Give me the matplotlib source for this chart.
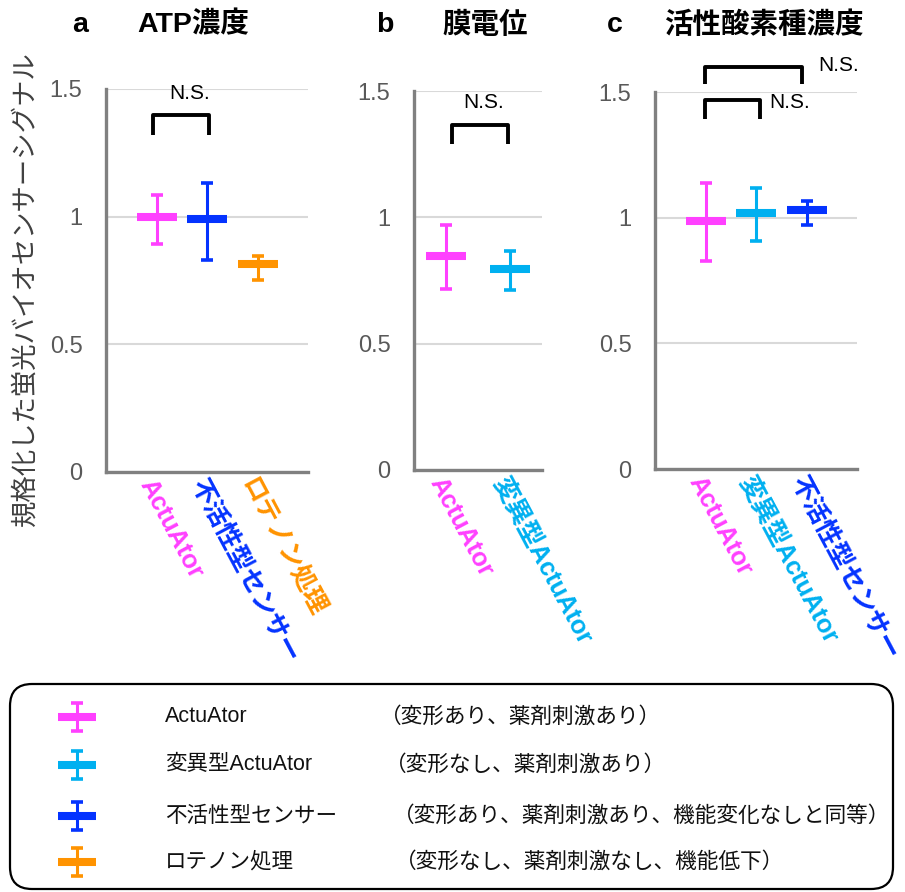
import matplotlib
matplotlib.use("Agg")
import matplotlib.pyplot as plt
from matplotlib.patches import FancyBboxPatch

plt.rcParams['font.family'] = ['Liberation Sans', 'Noto Sans CJK JP', 'DejaVu Sans']

W, H = 905, 892

# ---------------- data ----------------
colors = {
    'ActuAtor': '#FF40FF',
    '変異型ActuAtor': '#00B0F0',
    '不活性型センサー': '#0433FF',
    'ロテノン処理': '#FF9300',
}

a_labels = ['ActuAtor', '不活性型センサー', 'ロテノン処理']
a_mean = [1.00, 0.991, 0.815]
a_upper = [1.085, 1.132, 0.846]
a_lower = [0.893, 0.830, 0.752]

b_labels = ['ActuAtor', '変異型ActuAtor']
b_mean = [0.847, 0.795]
b_upper = [0.970, 0.867]
b_lower = [0.716, 0.712]

c_labels = ['ActuAtor', '変異型ActuAtor', '不活性型センサー']
c_mean = [0.987, 1.019, 1.031]
c_upper = [1.138, 1.118, 1.066]
c_lower = [0.828, 0.907, 0.971]

yticks = [0, 0.5, 1, 1.5]
ytick_labels = ['0', '0.5', '1', '1.5']

titles = [('a', 'ATP濃度'), ('b', '膜電位'), ('c', '活性酸素種濃度')]
ylabel = '規格化した蛍光バイオセンサーシグナル'

legend_labels = ['ActuAtor', '変異型ActuAtor', '不活性型センサー', 'ロテノン処理']
legend_desc = ['（変形あり、薬剤刺激あり）',
               '（変形なし、薬剤刺激あり）',
               '（変形あり、薬剤刺激あり、機能変化なしと同等）',
               '（変形なし、薬剤刺激なし、機能低下）']

# brackets: (x_left, x_right, y_top, y_bottom, text_x, text_y, ha)
a_brackets = [(0.93, 2.04, 1.398, 1.32, 1.66, 1.484, 'center')]
b_brackets = [(1.09, 1.97, 1.365, 1.29, 1.59, 1.456, 'center')]
c_brackets = [(0.99, 2.91, 1.60, 1.532, 3.23, 1.604, 'left'),
              (0.99, 2.08, 1.468, 1.393, 2.26, 1.46, 'left')]

# ---------------- figure ----------------
fig = plt.figure(figsize=(W / 100, H / 100), dpi=100)


def px_axes(x0, x1, ytop, ybot):
    return fig.add_axes([x0 / W, 1 - ybot / H, (x1 - x0) / W, (ybot - ytop) / H])


def panel(ax, labels, mean, upper, lower, xlim, brackets):
    pos = list(range(1, len(labels) + 1))
    for p, lab, m, u, l in zip(pos, labels, mean, upper, lower):
        c = colors[lab]
        ax.errorbar([p], [m], yerr=[[m - l], [u - m]], fmt='none', ecolor=c,
                    elinewidth=2.2, capsize=4.5, capthick=2.6, zorder=3)
        ax.plot([p], [m], marker='_', ms=28.5, mew=5.8, color=c, zorder=4,
                linestyle='none')
    ax.set_xlim(*xlim)
    ax.set_ylim(0, 1.5)
    ax.set_yticks(yticks, ytick_labels)
    ax.set_xticks(pos, labels)
    ax.tick_params(axis='y', length=0, pad=17, labelsize=17, labelcolor='#595959')
    ax.tick_params(axis='x', length=0, pad=2)
    for t, lab in zip(ax.get_xticklabels(), labels):
        t.set_color(colors[lab])
        t.set_fontweight('bold')
        t.set_fontsize(18.4)
        t.set_rotation(-62)
        t.set_ha('left')
        t.set_va('top')
        t.set_rotation_mode('anchor')
    ax.grid(axis='y', color='#d9d9d9', lw=1.5, zorder=0)
    ax.set_axisbelow(True)
    for s in ['top', 'right']:
        ax.spines[s].set_visible(False)
    for s in ['left', 'bottom']:
        ax.spines[s].set_color('#808080')
        ax.spines[s].set_linewidth(2.4)
        ax.spines[s].set_zorder(5)
    for (xl, xr, yt, yb, tx, ty, ha) in brackets:
        ax.plot([xl, xl, xr, xr], [yb, yt, yt, yb], color='black', lw=2.8,
                clip_on=False, solid_joinstyle='round', solid_capstyle='butt', zorder=6)
        ax.text(tx, ty, 'N.S.', ha=ha, va='center', fontsize=15, color='black',
                clip_on=False)


ax_a = px_axes(106, 308, 89, 472)
panel(ax_a, a_labels, a_mean, a_upper, a_lower, (0, 4), a_brackets)
ax_b = px_axes(414, 542, 91, 470)
panel(ax_b, b_labels, b_mean, b_upper, b_lower, (0.5, 2.5), b_brackets)
ax_c = px_axes(655, 857, 92, 469)
panel(ax_c, c_labels, c_mean, c_upper, c_lower, (0, 4), c_brackets)

# ---------------- overlay (pixel coords) ----------------
ov = fig.add_axes([0, 0, 1, 1], zorder=10)
ov.set_xlim(0, W)
ov.set_ylim(H, 0)
ov.axis('off')

title_pos = [(80, 137), (385, 442), (615, 664)]
for (letter, name), (lx, nx) in zip(titles, title_pos):
    ov.text(lx, 25, letter, ha='center', va='center', fontsize=20.5,
            fontweight='bold', color='black')
    ov.text(nx, 25, name, ha='left', va='center', fontsize=20.5,
            fontweight='bold', color='black')

ov.text(25, 289, ylabel, rotation=90, ha='center', va='center', fontsize=19,
        color='#404040', family=['Noto Sans CJK JP', 'DejaVu Sans'])

# legend box
box = FancyBboxPatch((10, 684), 883, 205, boxstyle='round,pad=0,rounding_size=22',
                     fc='white', ec='black', lw=1.6)
ov.add_patch(box)

row_y = [717, 765, 816, 862]
desc_x = [380, 385, 393, 395]
for lab, desc, y, dx in zip(legend_labels, legend_desc, row_y, desc_x):
    c = colors[lab]
    ov.errorbar([77], [y], yerr=[[14], [14]], fmt='none', ecolor=c,
                elinewidth=2.2, capsize=4.5, capthick=2.6)
    ov.plot([77], [y], marker='_', ms=27.5, mew=5.8, color=c, linestyle='none')
    ov.text(165, y, lab, ha='left', va='center', fontsize=15.5, color='#111111')
    ov.text(dx, y, desc, ha='left', va='center', fontsize=15.6, color='#111111',
            family=['Noto Sans CJK JP', 'DejaVu Sans'])

fig.savefig('out.png', dpi=100)
